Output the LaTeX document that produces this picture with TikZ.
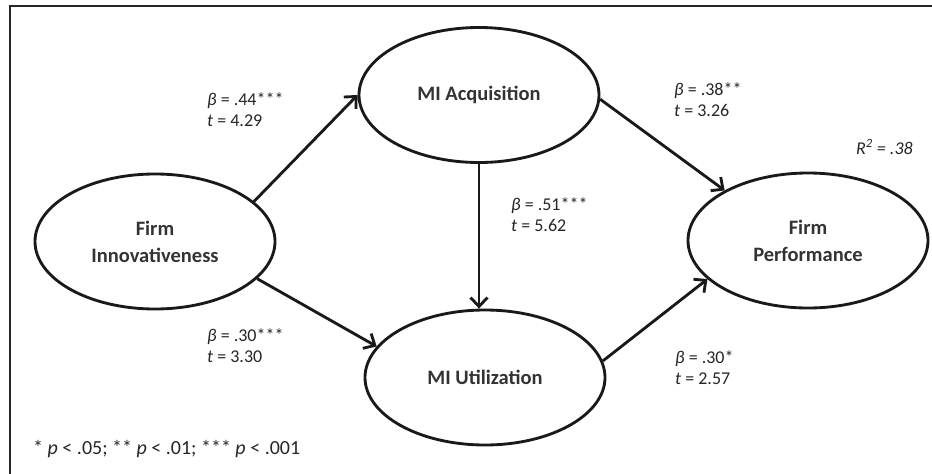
\documentclass[tikz,border=0pt]{standalone}
\usepackage{fontspec}
\setmainfont{Carlito}
\usepackage{tikz}
\usetikzlibrary{shapes.geometric, arrows.meta, calc}

\begin{document}
\begin{tikzpicture}[x=1pt, y=-1pt,
        construct/.style={
                ellipse,
                draw=black!90,
                line width=1mm,
                minimum width=240pt,
                minimum height=135pt,
                inner sep=0pt,
                align=center,
                text=black!80,
                font=\fontsize{20.5}{27}\selectfont\bfseries,
        },
        effect/.style={
                draw=black!90,
                line width=1mm,
                -{Straight Barb[length=9pt, width=17pt]},
        },
        coef/.style={
                anchor=west,
                align=left,
                inner sep=0pt,
                text=black!85,
                font=\fontsize{18}{21}\selectfont,
        }]
            \useasboundingbox (0, 0) rectangle (932, 474);
            \clip (0, 0) rectangle (932, 474);
            \draw[line width=0.85mm, black!85] (10, 6) rectangle (960, 500);

            \node[construct] (fi) at (155, 241.5) {Firm\\Innovativeness};
            \node[construct] (mia) at (479, 95) {MI Acquisition};
            \node[construct] (miu) at (485, 377.5) {MI Utilization};
            \node[construct] (fp) at (808, 240.5) {Firm\\Performance};

            \draw[effect] (fi.22) -- (mia.180);
            \draw[effect] (fi.-20) -- (miu.164);
            \draw[effect] (mia.south) -- (mia.south |- miu.north);
            \draw[effect] (mia.-2) -- (fp.149);
            \draw[effect] (miu.8) -- (fp.201);

            \node[coef] (c44) at (207, 110) {\textit{β} = .44***\\\textit{t} = 4.29};
            \node[coef] (c30a) at (207, 346) {\textit{β} = .30***\\\textit{t} = 3.30};
            \node[coef] (c51) at (511, 215) {\textit{β} = .51***\\\textit{t} = 5.62};
            \node[coef] (c38) at (674, 100) {\textit{β} = .38**\\\textit{t} = 3.26};
            \node[coef] (c30b) at (675, 368) {\textit{β} = .30*\\\textit{t} = 2.57};
            \node[coef] (rsq) at (856, 147) {\textit{R\textsuperscript{2} = .38}};
            \node[coef, font=\fontsize{20}{24}\selectfont] (note) at (33, 449)
                {* \textit{p} < .05; ** \textit{p} < .01; *** \textit{p} < .001};
        \end{tikzpicture}
\end{document}
